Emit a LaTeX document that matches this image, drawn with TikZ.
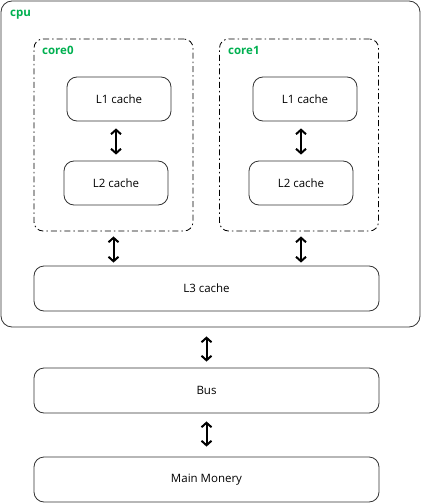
\documentclass[tikz,border=0pt]{standalone}
\usepackage{fontspec}
\setmainfont{Open Sans}
\usetikzlibrary{positioning, arrows.meta, calc}
\definecolor{labelgreen}{HTML}{00B050}

\begin{document}
\begin{tikzpicture}[
    x=1pt, y=-1pt,
    font=\fontsize{11.5}{13}\selectfont,
    cachebox/.style={draw=black!80, line width=0.8pt, rounded corners=10pt, minimum width=104pt, minimum height=44pt, inner sep=0pt},
    widebox/.style={draw=black!80, line width=0.8pt, rounded corners=10pt, minimum width=345pt, minimum height=45pt, inner sep=0pt},
    corebox/.style={draw=black, line width=0.8pt, dash pattern=on 6pt off 3pt on 1.5pt off 3pt, rounded corners=9pt, minimum width=159pt, minimum height=192pt, inner sep=0pt},
    cpubox/.style={draw=black!80, line width=0.8pt, rounded corners=11pt, minimum width=419pt, minimum height=326pt, inner sep=0pt},
    grouplabel/.style={text=labelgreen, font=\fontsize{11.5}{13}\selectfont\bfseries, inner sep=0pt, anchor=north west},
    link/.style={line width=2pt, {Straight Barb[length=4.5pt,width=10pt,line width=2pt]}-{Straight Barb[length=4.5pt,width=10pt,line width=2pt]}}
]

\useasboundingbox (0,0) rectangle (421,503);

% --- BOXES ---
\node[cpubox] (cpu) at (210.5,164) {};
\node[grouplabel] (cpulbl) at (10,10) {cpu};

\node[corebox] (core0) at (113.5,135) {};
\node[grouplabel] (core0lbl) at (42,46) {core0};
\node[cachebox] (L1a) at (119,99) {L1 cache};
\node[cachebox] (L2a) at (116,183) {L2 cache};

\node[corebox] (core1) at (299,135) {};
\node[grouplabel] (core1lbl) at (228,46) {core1};
\node[cachebox] (L1b) at (305,99) {L1 cache};
\node[cachebox] (L2b) at (301,183) {L2 cache};

\node[widebox] (L3) at (206.5,288.5) {L3 cache};
\node[widebox] (bus) at (206.5,390.5) {Bus};
\node[widebox] (mem) at (206.5,479.5) {Main Monery};

% --- ARROWS ---
\draw[link] (L2a.north |- L1a.south) ++(0,7) -- ($(L2a.north)+(0,-6)$);
\draw[link] (L2b.north |- L1b.south) ++(0,7) -- ($(L2b.north)+(0,-6)$);
\draw[link] ($(core0.south)+(0,5)$) -- ($(core0.south |- L3.north)+(0,-3)$);
\draw[link] ($(core1.south)+(2,5)$) -- ($(core1.south |- L3.north)+(2,-3)$);
\draw[link] ($(bus.north |- cpu.south)+(0,9)$) -- ($(bus.north)+(0,-6)$);
\draw[link] ($(bus.south)+(0,8)$) -- ($(mem.north)+(0,-10)$);

\end{tikzpicture}
\end{document}
